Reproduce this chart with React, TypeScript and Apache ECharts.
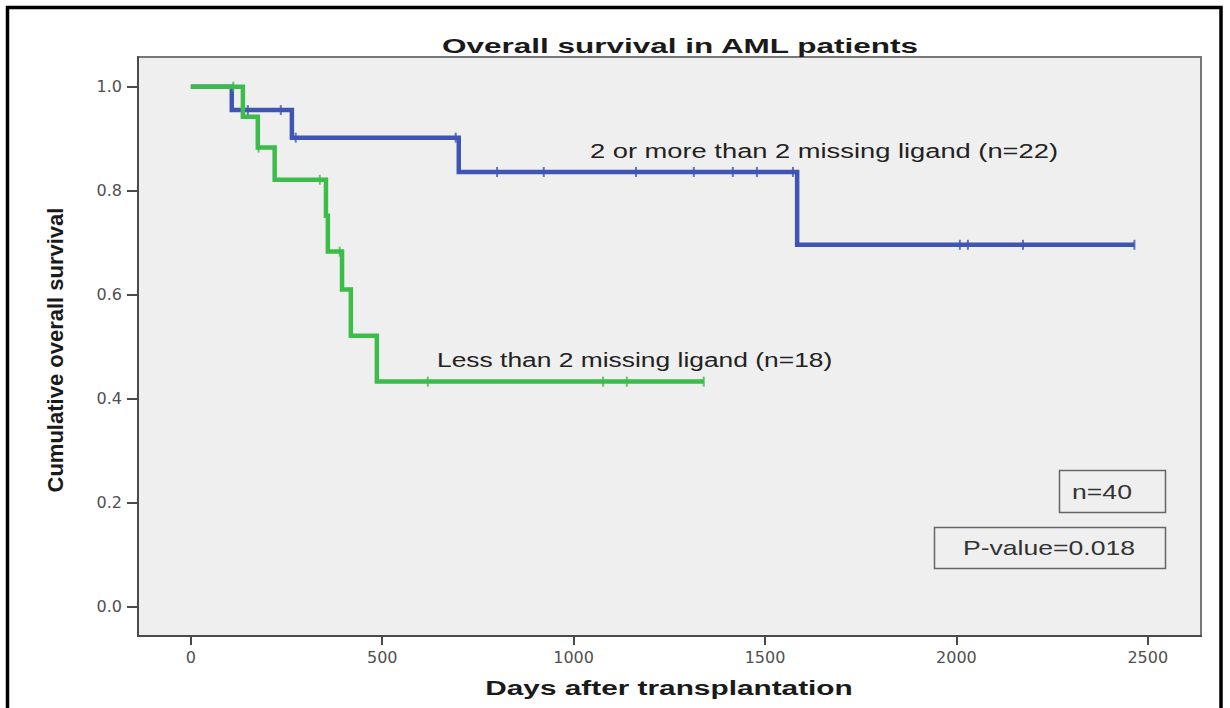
import { useEffect, useRef } from "react";
import * as echarts from "echarts";

// Axis ticks
const xTicks = [0, 500, 1000, 1500, 2000, 2500];
const yTicks = [0, 0.2, 0.4, 0.6, 0.8, 1.0];

// Group with 2 or more than 2 missing ligands (n=22): event days and survival after each event
const blueEventDays = [0, 107, 264, 700, 1584];
const blueSurvival = [1.0, 0.955, 0.902, 0.836, 0.696];
const blueCensorDays = [149, 235, 274, 692, 800, 922, 1163, 1314, 1416, 1479, 1573, 2009, 2030, 2174, 2465];
const blueLastDay = 2465;

// Group with less than 2 missing ligands (n=18)
const greenEventDays = [0, 136, 175, 219, 353, 358, 395, 418, 486];
const greenSurvival = [1.0, 0.942, 0.883, 0.821, 0.752, 0.683, 0.61, 0.521, 0.433];
const greenCensorDays = [111, 177, 337, 389, 619, 1077, 1139, 1340];
const greenLastDay = 1340;

const BLUE = "#3f55b3";
const GREEN = "#3cbc48";

function stepCurve(days: number[], surv: number[], lastDay: number) {
  const pts = days.map((d, i) => [d, surv[i]]);
  pts.push([lastDay, surv[surv.length - 1]]);
  return pts;
}

function levelAt(days: number[], surv: number[], t: number) {
  let v = surv[0];
  for (let i = 0; i < days.length; i++) {
    if (days[i] <= t) v = surv[i];
  }
  return v;
}

function censorPoints(days: number[], surv: number[], censors: number[]) {
  return censors.map((t) => [t, levelAt(days, surv, t)]);
}

const SANS = "'Liberation Sans', Arial, sans-serif";

export default function App() {
  const ref = useRef<HTMLDivElement>(null);

  useEffect(() => {
    if (!ref.current) return;
    const chart = echarts.init(ref.current, undefined, { renderer: "svg" });

    const stepLine = (name: string, color: string, data: number[][], z: number) => ({
      name,
      type: "line",
      step: "end",
      data,
      showSymbol: false,
      z,
      lineStyle: { color, width: 4.5, cap: "butt", join: "miter" },
      emphasis: { disabled: true },
    });

    const censorMarks = (name: string, color: string, data: number[][], z: number) => ({
      name,
      type: "scatter",
      data,
      symbol: "rect",
      symbolSize: [2, 10],
      z,
      itemStyle: { color },
      emphasis: { disabled: true },
    });

    chart.setOption({
      animation: false,
      backgroundColor: "#ffffff",
      grid: {
        left: 138,
        right: 29,
        top: 57,
        bottom: 72,
        show: true,
        backgroundColor: "#efefef",
        borderColor: "#777777",
        borderWidth: 2,
      },
      xAxis: {
        type: "value",
        min: -138,
        max: 2639,
        axisLine: { show: true, onZero: false, lineStyle: { color: "#4a4a4a", width: 2 } },
        axisTick: {
          show: true,
          length: 9,
          customValues: xTicks,
          lineStyle: { color: "#4a4a4a", width: 2 },
        },
        axisLabel: {
          customValues: xTicks,
          margin: 13,
          color: "#505050",
          fontFamily: "'DejaVu Sans', sans-serif",
          fontSize: 16,
          formatter: (v: number) => String(v),
        },
        splitLine: { show: false },
      },
      yAxis: {
        type: "value",
        min: -0.056,
        max: 1.057,
        axisLine: { show: true, onZero: false, lineStyle: { color: "#4a4a4a", width: 2 } },
        axisTick: {
          show: true,
          length: 11,
          customValues: yTicks,
          lineStyle: { color: "#4a4a4a", width: 2 },
        },
        axisLabel: {
          customValues: yTicks,
          margin: 16,
          color: "#505050",
          fontFamily: "'DejaVu Sans', sans-serif",
          fontSize: 16,
          formatter: (v: number) => v.toFixed(1),
        },
        splitLine: { show: false },
      },
      series: [
        stepLine("2 or more than 2 missing ligand", BLUE, stepCurve(blueEventDays, blueSurvival, blueLastDay), 2),
        censorMarks("2 or more censored", BLUE, censorPoints(blueEventDays, blueSurvival, blueCensorDays), 3),
        stepLine("Less than 2 missing ligand", GREEN, stepCurve(greenEventDays, greenSurvival, greenLastDay), 4),
        censorMarks("Less than 2 censored", GREEN, censorPoints(greenEventDays, greenSurvival, greenCensorDays), 5),
      ],
      graphic: [
        {
          type: "rect",
          silent: true,
          z: 100,
          shape: { x: 7.5, y: 7.5, width: 1213.5, height: 760 },
          style: { fill: "none", stroke: "#000000", lineWidth: 3.5 },
        },
        {
          type: "text",
          x: 680,
          y: 46,
          scaleX: 1.5,
          style: {
            text: "Overall survival in AML patients",
            fontFamily: SANS,
            fontWeight: "bold",
            fontSize: 21,
            fill: "#1a1a1a",
            align: "center",
            verticalAlign: "middle",
          },
        },
        {
          type: "text",
          x: 669,
          y: 688,
          scaleX: 1.42,
          style: {
            text: "Days after transplantation",
            fontFamily: SANS,
            fontWeight: "bold",
            fontSize: 21,
            fill: "#1a1a1a",
            align: "center",
            verticalAlign: "middle",
          },
        },
        {
          type: "text",
          x: 55,
          y: 350,
          rotation: Math.PI / 2,
          style: {
            text: "Cumulative overall survival",
            fontFamily: SANS,
            fontWeight: "bold",
            fontSize: 22,
            fill: "#1a1a1a",
            align: "center",
            verticalAlign: "middle",
          },
        },
        {
          type: "text",
          x: 590,
          y: 151,
          scaleX: 1.365,
          style: {
            text: "2 or more than 2 missing ligand (n=22)",
            fontFamily: SANS,
            fontSize: 20,
            fill: "#222222",
            align: "left",
            verticalAlign: "middle",
          },
        },
        {
          type: "text",
          x: 437,
          y: 360,
          scaleX: 1.32,
          style: {
            text: "Less than 2 missing ligand (n=18)",
            fontFamily: SANS,
            fontSize: 20,
            fill: "#222222",
            align: "left",
            verticalAlign: "middle",
          },
        },
        {
          type: "rect",
          shape: { x: 1059.5, y: 470.5, width: 106, height: 42 },
          style: { fill: "none", stroke: "#666666", lineWidth: 1.5 },
        },
        {
          type: "text",
          x: 1102,
          y: 492,
          scaleX: 1.33,
          style: {
            text: "n=40",
            fontFamily: SANS,
            fontSize: 20,
            fill: "#333333",
            align: "center",
            verticalAlign: "middle",
          },
        },
        {
          type: "rect",
          shape: { x: 934.5, y: 527.5, width: 231, height: 41 },
          style: { fill: "none", stroke: "#666666", lineWidth: 1.5 },
        },
        {
          type: "text",
          x: 1049,
          y: 548,
          scaleX: 1.33,
          style: {
            text: "P-value=0.018",
            fontFamily: SANS,
            fontSize: 20,
            fill: "#333333",
            align: "center",
            verticalAlign: "middle",
          },
        },
      ],
    });

    return () => chart.dispose();
  }, []);

  return (
    <div
      ref={ref}
      style={{ position: "absolute", left: 0, top: 0, width: 1230, height: 708, background: "#ffffff" }}
    />
  );
}
